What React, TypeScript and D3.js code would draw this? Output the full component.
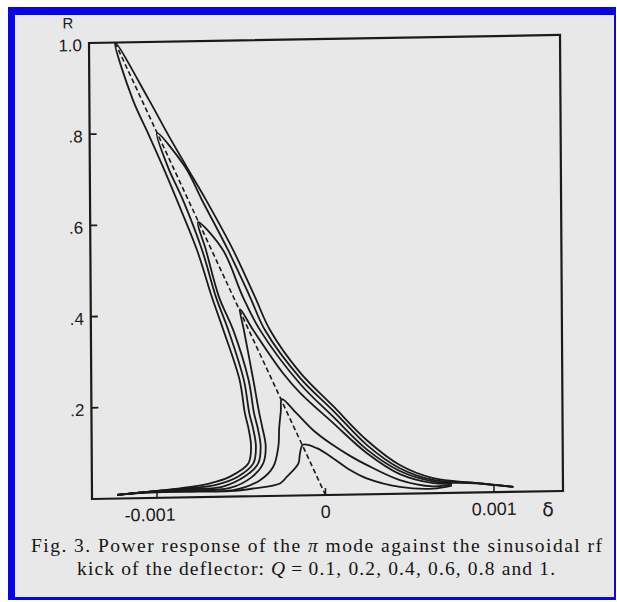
import React from 'react';
import * as d3 from 'd3';

// curves: [delta (x 1e-3), R]
const curveQ1 = [
  [-1.237, 0.008], [-1.04, 0.014], [-0.846, 0.021], [-0.685, 0.030], [-0.566, 0.044],
  [-0.457, 0.072], [-0.440, 0.109], [-0.455, 0.15], [-0.475, 0.182], [-0.505, 0.255],
  [-0.600, 0.366], [-0.666, 0.438], [-0.753, 0.542], [-0.870, 0.652], [-0.951, 0.725],
  [-1.039, 0.80], [-1.127, 0.873], [-1.231, 1.0],
  [-1.032, 0.873], [-0.926, 0.80], [-0.810, 0.724], [-0.697, 0.651], [-0.539, 0.541],
  [-0.411, 0.437], [-0.323, 0.364], [-0.147, 0.27], [0.048, 0.195], [0.249, 0.118],
  [0.442, 0.063], [0.639, 0.033], [0.887, 0.021], [1.115, 0.011],
];
const curveQ08 = [
  [-1.237, 0.008], [-1.04, 0.014], [-0.846, 0.019], [-0.655, 0.026], [-0.517, 0.044],
  [-0.427, 0.072], [-0.411, 0.109], [-0.428, 0.15], [-0.449, 0.182], [-0.480, 0.255],
  [-0.570, 0.365], [-0.642, 0.438], [-0.723, 0.542], [-0.834, 0.652], [-0.922, 0.725],
  [-0.986, 0.80],
  [-0.821, 0.725], [-0.721, 0.651], [-0.569, 0.541], [-0.440, 0.437], [-0.353, 0.364],
  [-0.147, 0.258], [0.048, 0.185], [0.248, 0.108], [0.442, 0.056], [0.639, 0.029],
  [0.887, 0.021], [1.115, 0.011],
];
const curveQ06 = [
  [-1.237, 0.008], [-1.04, 0.014], [-0.846, 0.018], [-0.614, 0.022], [-0.477, 0.044],
  [-0.398, 0.072], [-0.383, 0.109], [-0.400, 0.15], [-0.421, 0.182], [-0.452, 0.255],
  [-0.541, 0.365], [-0.624, 0.438], [-0.700, 0.542], [-0.746, 0.603],
  [-0.599, 0.541], [-0.482, 0.437], [-0.382, 0.364], [-0.147, 0.245], [0.047, 0.172],
  [0.248, 0.098], [0.442, 0.050], [0.639, 0.026], [0.887, 0.020], [1.115, 0.011],
];
const curveQ04 = [
  [-1.237, 0.008], [-1.04, 0.014], [-0.846, 0.016], [-0.567, 0.019], [-0.437, 0.042],
  [-0.368, 0.072], [-0.353, 0.109], [-0.372, 0.15], [-0.390, 0.182], [-0.424, 0.255],
  [-0.478, 0.365], [-0.500, 0.411],
  [-0.422, 0.364], [-0.246, 0.268], [-0.147, 0.225], [0.047, 0.158], [0.248, 0.09],
  [0.442, 0.043], [0.639, 0.022], [0.75, 0.02],
];
const curveQ02 = [
  [-1.237, 0.008], [-1.04, 0.013], [-0.745, 0.0145], [-0.547, 0.014], [-0.388, 0.035],
  [-0.309, 0.064], [-0.278, 0.108], [-0.272, 0.15], [-0.262, 0.185], [-0.255, 0.212],
  [-0.168, 0.18], [-0.072, 0.143], [0.035, 0.112], [0.147, 0.085], [0.248, 0.064],
  [0.442, 0.030], [0.639, 0.015], [0.75, 0.018],
];
const curveQ01 = [
  [-1.237, 0.008], [-1.04, 0.012], [-0.745, 0.012], [-0.567, 0.012], [-0.428, 0.017],
  [-0.270, 0.027], [-0.230, 0.041], [-0.160, 0.070], [-0.150, 0.092], [-0.132, 0.111],
  [-0.050, 0.103], [0.048, 0.080], [0.147, 0.054], [0.245, 0.035], [0.442, 0.015],
  [0.639, 0.010], [0.75, 0.016],
];
const curves = [curveQ01, curveQ02, curveQ04, curveQ06, curveQ08, curveQ1];

// dashed locus of the peaks
const backbone = [[-1.231, 1.0], [0, 0]];

const xTicks = [-0.001, 0, 0.001];
const xTickLabels = ['-0.001', '0', '0.001'];
const yTicks = [0.2, 0.4, 0.6, 0.8, 1.0];
const yTickLabels = ['.2', '.4', '.6', '.8', '1.0'];

const captionLine1 = ['Fig. 3. Power response of the ', 'π', ' mode against the sinusoidal rf'];
const captionLine2 = ['kick of the deflector: ', 'Q', '\u2009=\u20090.1, 0.2, 0.4, 0.6, 0.8 and 1.'];

const W = 471;
const H = 456;
const ink = '#1a1a1a';

const App = () => {
  const x = d3.scaleLinear().domain([-0.001, 0.001]).range([65, 402]);
  const y = d3.scaleLinear().domain([0, 1]).range([H, 0]);

  const line = d3.line<number[]>()
    .x(d => x(d[0] * 1e-3))
    .y(d => y(d[1]))
    .curve(d3.curveCatmullRom.alpha(0.5));

  return (
    <svg width={617} height={602} style={{ position: 'absolute', left: 0, top: 0, display: 'block' }}>
      <rect x={0} y={0} width={617} height={602} fill="#ffffff" />
      <rect x={8} y={7} width={608} height={593} fill="#0606e2" />
      <rect x={15} y={15} width={599} height={582} fill="#e8e8e8" />

      {/* plot, slightly skewed like the scan */}
      <g transform="matrix(1,-0.017,0.0066,1,89,43)">
        <rect x={0} y={0} width={W} height={H} fill="none" stroke={ink} strokeWidth={2.2} />

        {yTicks.slice(0, 4).map(t => (
          <line key={t} x1={0} x2={7} y1={y(t)} y2={y(t)} stroke={ink} strokeWidth={1.8} />
        ))}
        {xTicks.map(t => (
          <line key={t} x1={x(t)} x2={x(t)} y1={H} y2={H - 7} stroke={ink} strokeWidth={1.5} />
        ))}

        <path d={line(backbone) || ''} fill="none" stroke={ink} strokeWidth={1.6} strokeDasharray="5 3" />
        {curves.map((c, i) => (
          <path key={i} d={line(c) || ''} fill="none" stroke={ink} strokeWidth={1.8} strokeLinejoin="round" />
        ))}

        <g fontFamily="'Liberation Sans', Arial, sans-serif" fill={ink}>
          {yTicks.map((t, i) => (
            <text key={t} x={-7} y={y(t) + 8} fontSize={17} textAnchor="end">{yTickLabels[i]}</text>
          ))}
          <text x={-21} y={-15} fontSize={15} textAnchor="middle">R</text>
          {xTicks.map((t, i) => (
            <text key={t} x={x(t) + (t < 0 ? -7 : 0)} y={H + 23} fontSize={18} textAnchor="middle">{xTickLabels[i]}</text>
          ))}
          <text x={456} y={H + 25} fontSize={19} textAnchor="middle" fontFamily="'DejaVu Sans', sans-serif">δ</text>
        </g>
      </g>

      <g fontFamily="'Liberation Serif', 'Times New Roman', serif" fontSize={19.5} fill="#141414">
        <text x={316.5} y={552} textAnchor="middle" textLength={571} lengthAdjust="spacing">
          {captionLine1[0]}<tspan fontStyle="italic">{captionLine1[1]}</tspan>{captionLine1[2]}
        </text>
        <text x={316} y={575} textAnchor="middle" textLength={478} lengthAdjust="spacing">
          {captionLine2[0]}<tspan fontStyle="italic">{captionLine2[1]}</tspan>{captionLine2[2]}
        </text>
      </g>
    </svg>
  );
};

export default App;
